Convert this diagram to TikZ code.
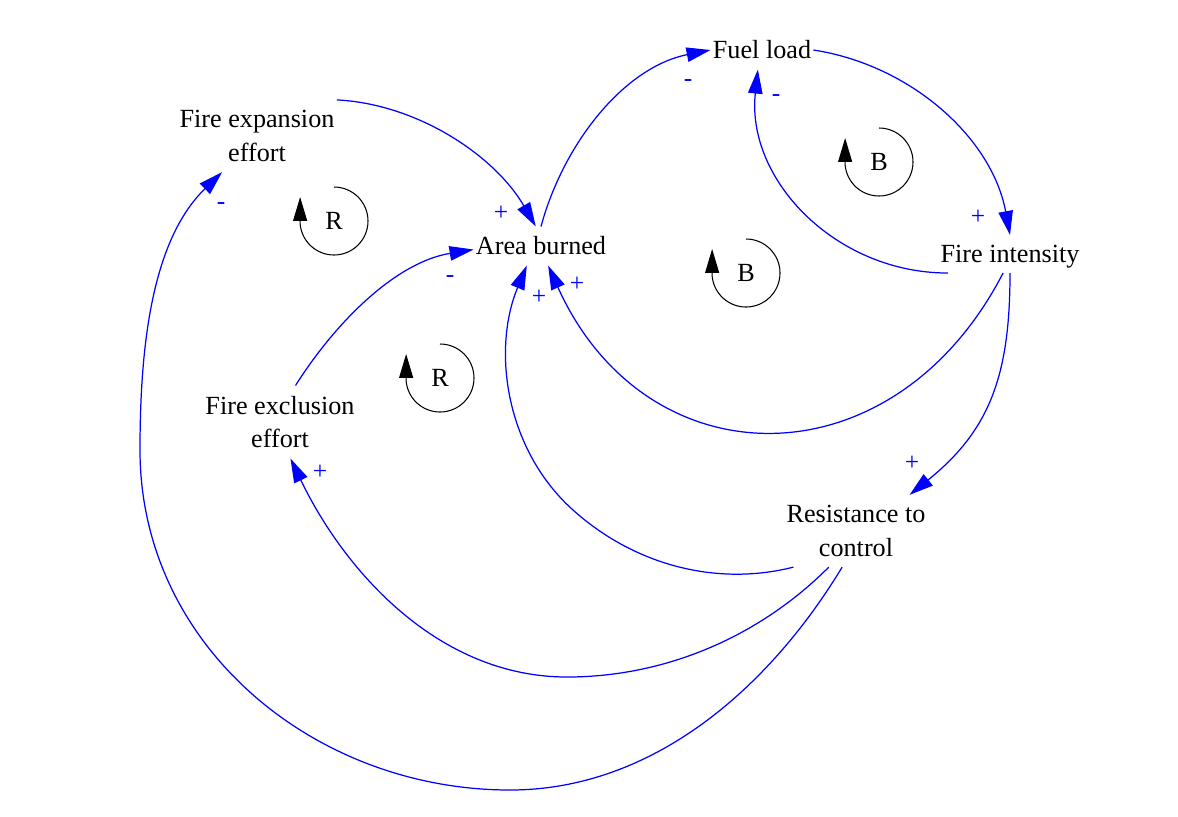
\documentclass[tikz,border=0pt]{standalone}
\usepackage{fontspec}
\setmainfont{Liberation Serif}
\usetikzlibrary{arrows.meta}
\begin{document}
\begin{tikzpicture}[x=0.2mm, y=-0.2mm,
    varbox/.style={inner xsep=0.4mm, inner ysep=2mm, align=center, font=\fontsize{14.9pt}{19.3pt}\selectfont},
    link/.style={blue, line width=0.7pt, -{Triangle[length=4.8mm, width=2.9mm]}},
    polarity/.style={blue, inner sep=0pt, font=\fontsize{14.5pt}{16pt}\selectfont},
    loopline/.style={black, line width=0.6pt, -{Triangle[length=4.8mm, width=2.8mm]}},
    looplabel/.style={inner sep=0pt, font=\fontsize{14.9pt}{18pt}\selectfont}]
	\pgfmathsetmacro{\LoopRadius}{34}
	\useasboundingbox (0,0) rectangle (1178,816);
	% variables
	\node[varbox] (FuelLoad) at (762,50) {Fuel load};
	\node[varbox] (FireExpansion) at (257,136) {Fire expansion\\effort};
	\node[varbox] (AreaBurned) at (541,246) {Area burned};
	\node[varbox, text depth=0pt] (FireIntensity) at (1010,254) {Fire intensity};
	\node[varbox] (FireExclusion) at (280,422) {Fire exclusion\\effort};
	\node[varbox] (Resistance) at (856,531) {Resistance to\\control};
	% causal links
	\draw[link] (FireExpansion.north east) .. controls (418,104) and (495,156) .. (AreaBurned.105);
	\draw[link] (AreaBurned.north) .. controls (564,142) and (625,67) .. (FuelLoad.west);
	\draw[link] (FuelLoad.east) .. controls (911,65) and (992,138) .. (FireIntensity.north);
	\draw[link] (FireIntensity.197) .. controls (836,273) and (746,180) .. (FuelLoad.258);
	\draw[link] (FireIntensity.250) .. controls (893,486) and (646,483) .. (AreaBurned.290);
	\draw[link] (FireIntensity.south) .. controls (1010,375) and (990,430) .. (Resistance.34);
	\draw[link] (Resistance.210) .. controls (715,587) and (633,564) .. (573,510) .. controls (505,449) and (492,349) .. (AreaBurned.234);
	\draw[link] (Resistance.233) .. controls (759,637) and (665,677) .. (567,677) .. controls (439,677) and (345,572) .. (FireExclusion.286);
	\draw[link] (FireExclusion.67) .. controls (337,320) and (397,262) .. (AreaBurned.183);
	\draw[link] (Resistance.249) .. controls (769,688) and (653,790) .. (510,790) .. controls (314,790) and (140,646) .. (140,450) .. controls (140,349) and (151,241) .. (FireExpansion.226);
	% link polarities
	\node[polarity] (PolExpArea) at (501,213) {+};
	\node[polarity] (PolAreaFuel) at (688,83) {-};
	\node[polarity] (PolFuelInt) at (978,217) {+};
	\node[polarity] (PolIntFuel) at (776,98) {-};
	\node[polarity] (PolIntArea) at (577,284) {+};
	\node[polarity] (PolIntRes) at (912,463) {+};
	\node[polarity] (PolResArea) at (539,297) {+};
	\node[polarity] (PolResExcl) at (320,472) {+};
	\node[polarity] (PolExclArea) at (450,279) {-};
	\node[polarity] (PolResExp) at (221,206) {-};
	% loop markers
	\draw[loopline] (334,187) arc[start angle=-90, end angle=175, radius=\LoopRadius] -- ++(0,-27);
	\node[looplabel] (LoopExpansion) at (334,221) {R};
	\draw[loopline] (440,344) arc[start angle=-90, end angle=175, radius=\LoopRadius] -- ++(0,-27);
	\node[looplabel] (LoopExclusion) at (440,378) {R};
	\draw[loopline] (879,128) arc[start angle=-90, end angle=175, radius=\LoopRadius] -- ++(0,-27);
	\node[looplabel] (LoopFuel) at (879,162) {B};
	\draw[loopline] (746,239) arc[start angle=-90, end angle=175, radius=\LoopRadius] -- ++(0,-27);
	\node[looplabel] (LoopIntensity) at (746,273) {B};
\end{tikzpicture}
\end{document}
